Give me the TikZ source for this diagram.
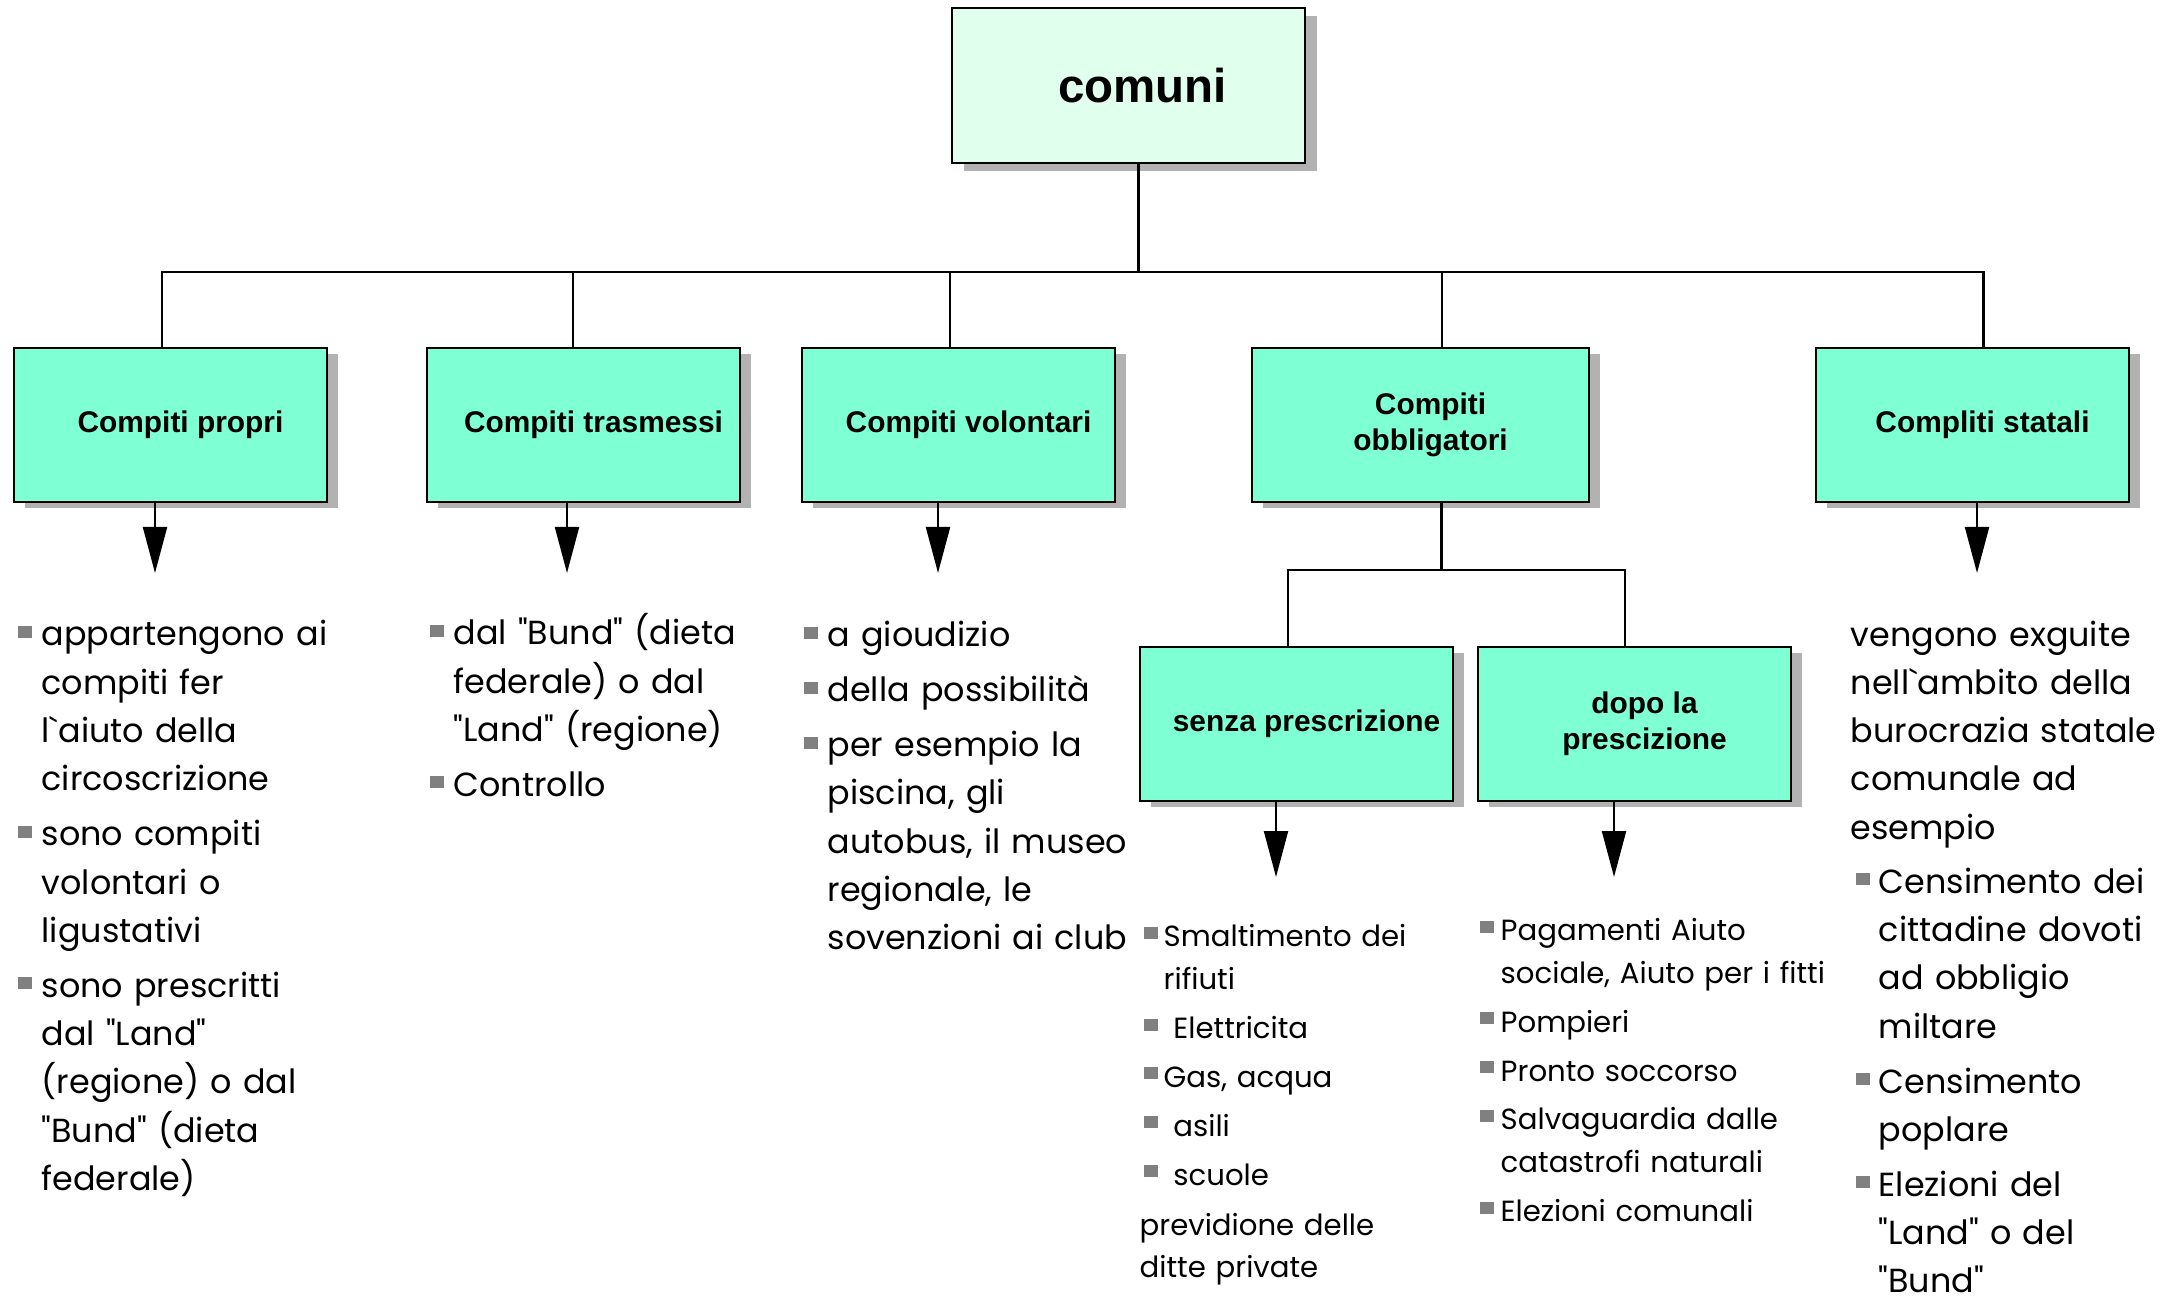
\documentclass[tikz,border=0pt]{standalone}
\usepackage{fontspec}
\usepackage{xcolor}
\usepackage{enumitem}
\usepackage{tikz}
\usetikzlibrary{shapes.geometric, arrows.meta, shadows}

\newfontfamily\bodyfont{Poppins}
\newfontfamily\labelfont{Liberation Sans}
\setlength{\parskip}{0pt}
\newcommand{\lpad}{\hspace*{0.2cm}}

\definecolor{bulletgray}{RGB}{128,128,128}
\newlist{blist}{itemize}{1}
\setlist[blist]{label={\textcolor{bulletgray}{\rule[0.08cm]{0.14cm}{0.12cm}}}, align=left, leftmargin=0.24cm, labelwidth=0.14cm, labelsep=0.10cm, itemsep=1.84pt, topsep=1.6pt, parsep=0pt, partopsep=0pt}

\begin{document}
\begin{tikzpicture}[node distance=2cm]
	\definecolor{aqua}{RGB}{127,255,212}
	\definecolor{mintlight}{RGB}{224,255,236}
	\definecolor{shadowgray}{RGB}{178,178,178}
	\tikzstyle{rootbox} = [rectangle, minimum width=3.53cm, minimum height=1.55cm, text centered, draw=black, line width=0.7pt, fill=mintlight, drop shadow={shadow xshift=0.12cm, shadow yshift=-0.08cm, fill=shadowgray, opacity=1}, font=\labelfont\bfseries\fontsize{13.5}{16}\selectfont]
	\tikzstyle{task} = [rectangle, minimum width=3.13cm, minimum height=1.54cm, text centered, align=center, draw=black, line width=0.7pt, fill=aqua, drop shadow={shadow xshift=0.11cm, shadow yshift=-0.06cm, fill=shadowgray, opacity=1}, font=\labelfont\bfseries\fontsize{8.5}{10.2}\selectfont]
	\tikzstyle{txt} = [anchor=base west, inner sep=0pt, text width=4cm, align=left, font=\bodyfont\fontsize{9.5}{13.75}\selectfont]
	\tikzstyle{smalltxt} = [anchor=base west, inner sep=0pt, text width=3.6cm, align=left, font=\bodyfont\fontsize{8.3}{12.2}\selectfont]
	\tikzstyle{arrow} = [line width=0.6pt, -{Triangle[length=0.46cm, width=0.24cm]}]
	\tikzstyle{link} = [line width=0.6pt]

	\useasboundingbox (0,0) rectangle (21.72,-13.0);

	\node (root) [rootbox] at (11.285,-0.855) {\hspace*{0.28cm}comuni};
	\node (propri) [task] at (1.705,-4.25) {\lpad Compiti propri};
	\node (trasmessi) [task, right of=propri, xshift=2.13cm] {\lpad Compiti trasmessi};
	\node (volontari) [task, right of=trasmessi, xshift=1.75cm] {\lpad Compiti volontari};
	\node (obbligatori) [task, right of=volontari, xshift=2.62cm, minimum width=3.37cm] {\lpad Compiti\\\lpad obbligatori};
	\node (statali) [task, right of=obbligatori, xshift=3.52cm] {\lpad Compliti statali};
	\node (senza) [task, below of=obbligatori, xshift=-1.24cm, yshift=-0.99cm] {\lpad senza prescrizione};
	\node (dopo) [task, right of=senza, xshift=1.38cm] {\lpad dopo la\\\lpad prescizione};

	% tips of the arrows
	\coordinate (propri-tip) at (1.55,-5.73);
	\coordinate (trasmessi-tip) at (5.67,-5.73);
	\coordinate (volontari-tip) at (9.38,-5.73);
	\coordinate (statali-tip) at (19.77,-5.73);
	\coordinate (senza-tip) at (12.76,-8.77);
	\coordinate (dopo-tip) at (16.14,-8.77);

	\draw [link] ([xshift=0.1cm]root.south) -- ++(0,-1.08) coordinate (bus);
	\draw [link] (bus) -| ([xshift=-0.085cm]propri.north);
	\draw [link] (bus) -| ([xshift=-0.105cm]trasmessi.north);
	\draw [link] (bus) -| ([xshift=-0.085cm]volontari.north);
	\draw [link] (bus) -| ([xshift=0.215cm]obbligatori.north);
	\draw [link] (bus) -| ([xshift=0.11cm]statali.north);
	\draw [link] ([xshift=0.21cm]obbligatori.south) -- ++(0,-0.67) coordinate (subbus);
	\draw [link] (subbus) -| ([xshift=-0.085cm]senza.north);
	\draw [link] (subbus) -| ([xshift=-0.095cm]dopo.north);

	\draw [arrow] (propri.south -| propri-tip) -- (propri-tip);
	\draw [arrow] (trasmessi.south -| trasmessi-tip) -- (trasmessi-tip);
	\draw [arrow] (volontari.south -| volontari-tip) -- (volontari-tip);
	\draw [arrow] (statali.south -| statali-tip) -- (statali-tip);
	\draw [arrow] (senza.south -| senza-tip) -- (senza-tip);
	\draw [arrow] (dopo.south -| dopo-tip) -- (dopo-tip);

	\node (propri-txt) [txt] at (0.17,-5.92) {\begin{blist}
		\item appartengono ai\newline compiti fer\newline l\textasciigrave aiuto della\newline circoscrizione
		\item sono compiti\newline volontari o\newline ligustativi
		\item sono prescritti\newline dal "Land"\newline (regione) o dal\newline "Bund" (dieta\newline federale)
	\end{blist}};
	\node (trasmessi-txt) [txt] at (4.29,-5.91) {\begin{blist}
		\item dal "Bund" (dieta\newline federale) o dal\newline "Land" (regione)
		\item Controllo
	\end{blist}};
	\node (volontari-txt) [txt] at (8.03,-5.93) {\begin{blist}
		\item a gioudizio
		\item della possibilità
		\item per esempio la\newline piscina, gli\newline autobus, il museo\newline regionale, le\newline sovenzioni ai club
	\end{blist}};
	\node (senza-txt) [smalltxt] at (11.39,-8.97) {\begin{blist}[labelsep=0.06cm, itemsep=1.7pt, topsep=2pt]
		\item Smaltimento dei\newline rifiuti
		\item ~Elettricita
		\item Gas, acqua
		\item ~asili
		\item ~scuole
	\end{blist}
	previdione delle\newline ditte private};
	\node (dopo-txt) [smalltxt] at (14.79,-8.92) {\begin{blist}[leftmargin=0.21cm, labelsep=0.07cm, itemsep=1.7pt]
		\item Pagamenti Aiuto\newline sociale, Aiuto per i fitti
		\item Pompieri
		\item Pronto soccorso
		\item Salvaguardia dalle\newline catastrofi naturali
		\item Elezioni comunali
	\end{blist}};
	\node (statali-txt) [txt, text width=3.4cm] at (18.50,-6.46) {vengono exguite\newline nell\textasciigrave ambito della\newline burocrazia statale\newline comunale ad\newline esempio
	\begin{blist}[leftmargin=0.28cm, labelsep=0.09cm]
		\item Censimento dei\newline cittadine dovoti\newline ad obbligio\newline miltare
		\item Censimento\newline poplare
		\item Elezioni del\newline "Land" o del\newline "Bund"
	\end{blist}};
\end{tikzpicture}
\end{document}
